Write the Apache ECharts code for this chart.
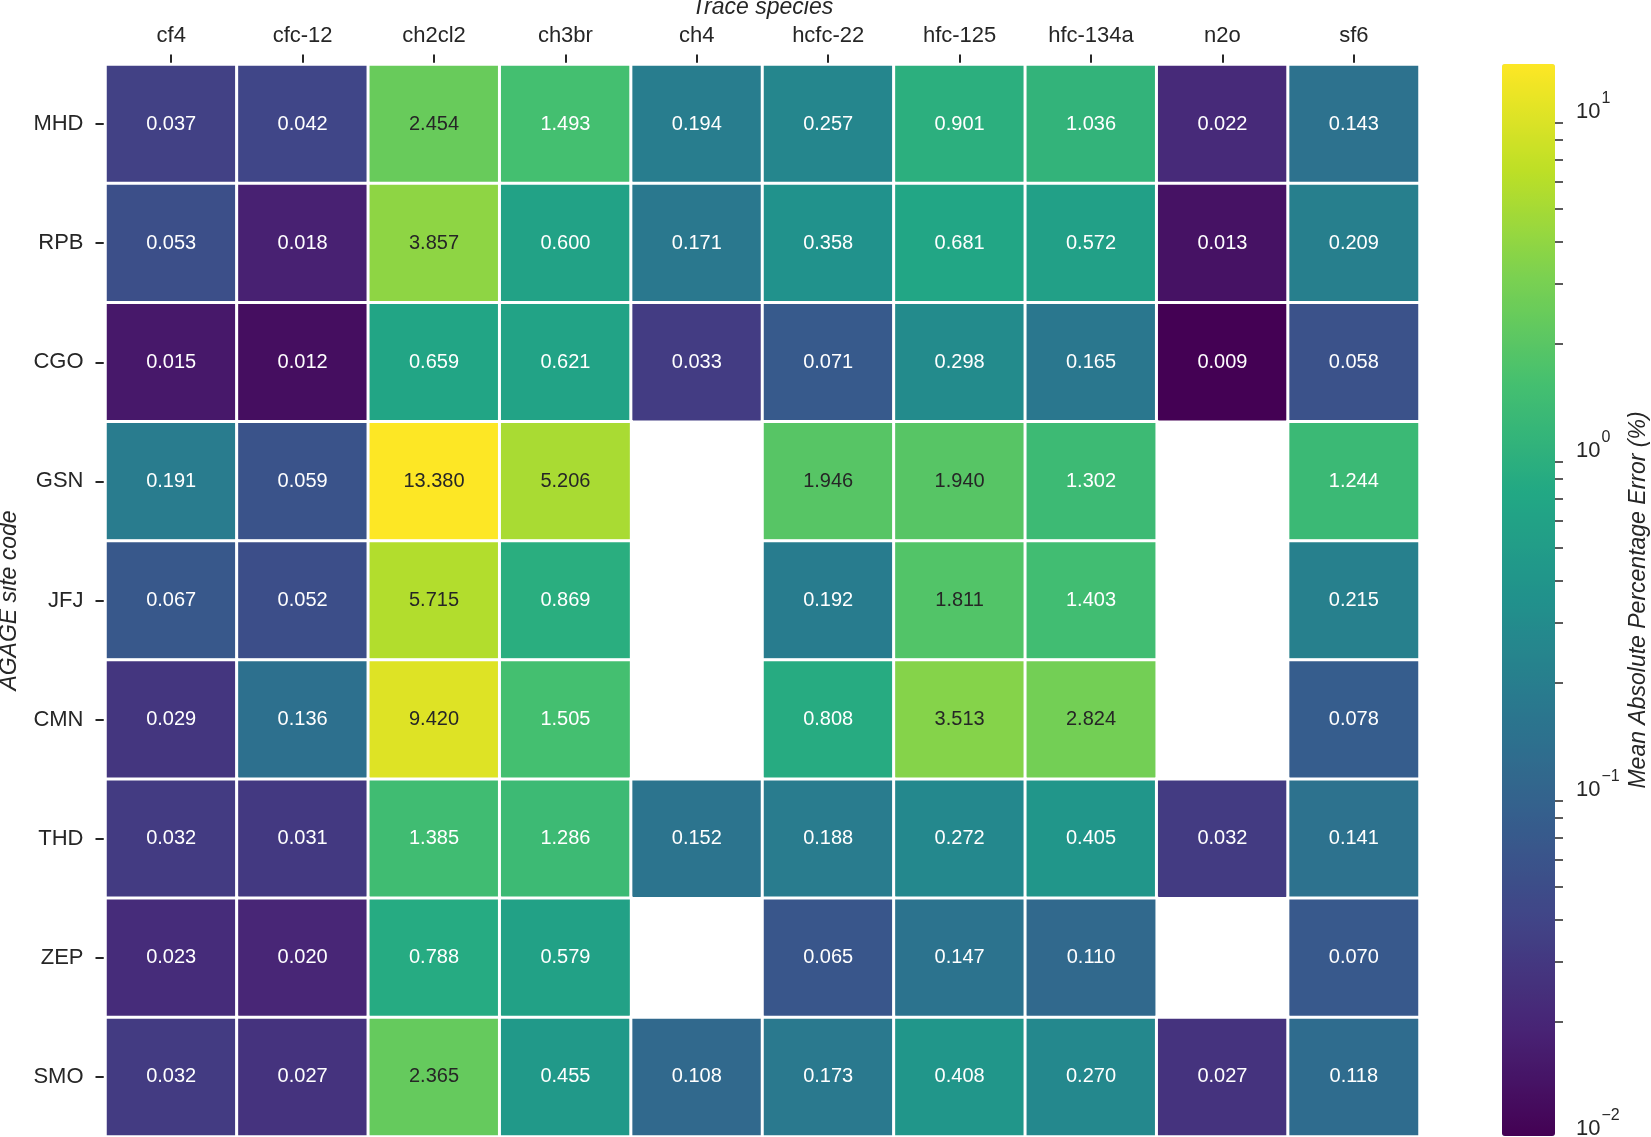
<!DOCTYPE html>
<html>
<head>
<meta charset="utf-8">
<title>AGAGE MAPE heatmap</title>
<script src="https://cdn.jsdelivr.net/npm/echarts@6/dist/echarts.min.js"></script>
<style>
  html, body { margin: 0; padding: 0; background: #fff; }
  #chart { width: 1651px; height: 1137px; }
</style>
</head>
<body>
<div id="chart"></div>
<script>
var species = ['cf4', 'cfc-12', 'ch2cl2', 'ch3br', 'ch4', 'hcfc-22', 'hfc-125', 'hfc-134a', 'n2o', 'sf6'];
var sites = ['MHD', 'RPB', 'CGO', 'GSN', 'JFJ', 'CMN', 'THD', 'ZEP', 'SMO'];

// one row per site, in species order (null = no data)
var MHD = [0.037, 0.042, 2.454, 1.493, 0.194, 0.257, 0.901, 1.036, 0.022, 0.143];
var RPB = [0.053, 0.018, 3.857, 0.600, 0.171, 0.358, 0.681, 0.572, 0.013, 0.209];
var CGO = [0.015, 0.012, 0.659, 0.621, 0.033, 0.071, 0.298, 0.165, 0.009, 0.058];
var GSN = [0.191, 0.059, 13.380, 5.206, null, 1.946, 1.940, 1.302, null, 1.244];
var JFJ = [0.067, 0.052, 5.715, 0.869, null, 0.192, 1.811, 1.403, null, 0.215];
var CMN = [0.029, 0.136, 9.420, 1.505, null, 0.808, 3.513, 2.824, null, 0.078];
var THD = [0.032, 0.031, 1.385, 1.286, 0.152, 0.188, 0.272, 0.405, 0.032, 0.141];
var ZEP = [0.023, 0.020, 0.788, 0.579, null, 0.065, 0.147, 0.110, null, 0.070];
var SMO = [0.032, 0.027, 2.365, 0.455, 0.108, 0.173, 0.408, 0.270, 0.027, 0.118];
var rows = [MHD, RPB, CGO, GSN, JFJ, CMN, THD, ZEP, SMO];

// colour scale limits (log)
var colorMin = 0.0092;
var colorMax = 13.38;
var cbarExponents = [-2, -1, 0, 1];

var viridis = ['#440154', '#482475', '#414487', '#355f8d', '#2a788e', '#21918c',
               '#22a884', '#44bf70', '#7ad151', '#bddf26', '#fde725'];

var logMin = Math.log10(colorMin);
var logMax = Math.log10(colorMax);

function hexRgb(h) {
    return [parseInt(h.substr(1, 2), 16), parseInt(h.substr(3, 2), 16), parseInt(h.substr(5, 2), 16)];
}
function colorAt(t) {
    t = Math.max(0, Math.min(1, t));
    var p = t * (viridis.length - 1);
    var i = Math.min(Math.floor(p), viridis.length - 2);
    var f = p - i;
    var a = hexRgb(viridis[i]), b = hexRgb(viridis[i + 1]);
    return [0, 1, 2].map(function (k) { return a[k] + (b[k] - a[k]) * f; });
}
// same rule seaborn uses to pick annotation colour
function lum(rgb) {
    var c = rgb.map(function (v) {
        v = v / 255;
        return v <= 0.03928 ? v / 12.92 : Math.pow((v + 0.055) / 1.055, 2.4);
    });
    return 0.2126 * c[0] + 0.7152 * c[1] + 0.0722 * c[2];
}

var cells = [];
rows.forEach(function (r, y) {
    r.forEach(function (v, x) {
        if (v === null) return;
        var lv = Math.log10(v);
        var t = (lv - logMin) / (logMax - logMin);
        cells.push({
            value: [x, y, lv, v],
            label: { color: lum(colorAt(t)) > 0.408 ? '#262626' : '#ffffff' }
        });
    });
});

var minorTicks = [];
for (var n = -3; n <= 1; n++) {
    for (var k = 2; k <= 9; k++) {
        var lv = Math.log10(k * Math.pow(10, n));
        if (lv > logMin && lv < logMax) minorTicks.push(lv);
    }
}

var font = "'Liberation Sans', Arial, sans-serif";
var ink = '#262626';

var chart = echarts.init(document.getElementById('chart'));
chart.setOption({
    animation: false,
    textStyle: { fontFamily: font },
    grid: [
        { left: 105.5, top: 64.5, width: 1314, height: 1072, outerBoundsMode: 'none' },
        { left: 1502, top: 64, width: 53, height: 1072, outerBoundsMode: 'none' }
    ],
    xAxis: [{
        type: 'category',
        data: species,
        position: 'top',
        gridIndex: 0,
        name: 'Trace species',
        nameLocation: 'middle',
        nameGap: 42,
        nameTextStyle: { fontSize: 23, fontStyle: 'italic', color: ink, fontFamily: font },
        axisLine: { show: false },
        axisTick: { show: true, alignWithLabel: true, length: 10, lineStyle: { color: ink, width: 2 } },
        axisLabel: { fontSize: 22, color: ink, margin: 18, interval: 0 },
        splitLine: { show: false }
    }, {
        type: 'value',
        gridIndex: 1,
        show: false
    }],
    yAxis: [{
        type: 'category',
        data: sites,
        inverse: true,
        gridIndex: 0,
        name: 'AGAGE site code',
        nameLocation: 'middle',
        nameRotate: 90,
        nameGap: 84,
        nameTextStyle: { fontSize: 23, fontStyle: 'italic', color: ink, fontFamily: font },
        axisLine: { show: false },
        axisTick: { show: true, alignWithLabel: true, length: 10, lineStyle: { color: ink, width: 2 } },
        axisLabel: { fontSize: 22, color: ink, margin: 22, interval: 0 },
        splitLine: { show: false }
    }, {
        // colorbar major ticks + labels
        type: 'value',
        gridIndex: 1,
        position: 'right',
        min: logMin,
        max: logMax,
        name: 'Mean Absolute Percentage Error (%)',
        nameLocation: 'middle',
        nameRotate: 90,
        nameGap: 72,
        nameTextStyle: { fontSize: 23, fontStyle: 'italic', color: ink, fontFamily: font },
        axisLine: { show: false },
        splitLine: { show: false },
        axisTick: { show: true, length: 13, customValues: cbarExponents, lineStyle: { color: ink, width: 2 } },
        axisLabel: {
            show: true,
            margin: 21,
            customValues: cbarExponents,
            formatter: function (v) {
                var e = Math.round(v);
                return '{b|10}{s|' + (e < 0 ? '\u2212' + (-e) : e) + '}';
            },
            rich: {
                b: { fontSize: 22, color: ink, fontFamily: font, verticalAlign: 'bottom' },
                s: { fontSize: 16, color: ink, fontFamily: font, padding: [0, 0, 16, 1], verticalAlign: 'bottom' }
            }
        }
    }, {
        // colorbar minor ticks
        type: 'value',
        gridIndex: 1,
        position: 'right',
        min: logMin,
        max: logMax,
        axisLine: { show: false },
        splitLine: { show: false },
        axisTick: { show: true, length: 8, customValues: minorTicks, lineStyle: { color: ink, width: 1.5 } },
        axisLabel: { show: false }
    }],
    visualMap: {
        type: 'continuous',
        seriesIndex: 0,
        dimension: 2,
        min: logMin,
        max: logMax,
        calculable: false,
        orient: 'vertical',
        left: 1502,
        top: 64,
        itemWidth: 53,
        itemHeight: 1072,
        padding: 0,
        text: null,
        showLabel: false,
        inRange: { color: viridis }
    },
    series: [{
        type: 'heatmap',
        xAxisIndex: 0,
        yAxisIndex: 0,
        data: cells,
        itemStyle: { borderColor: '#ffffff', borderWidth: 3 },
        label: {
            show: true,
            fontSize: 20,
            fontFamily: font,
            formatter: function (p) { return p.value[3].toFixed(3); }
        },
        emphasis: { disabled: true }
    }]
});
</script>
</body>
</html>
